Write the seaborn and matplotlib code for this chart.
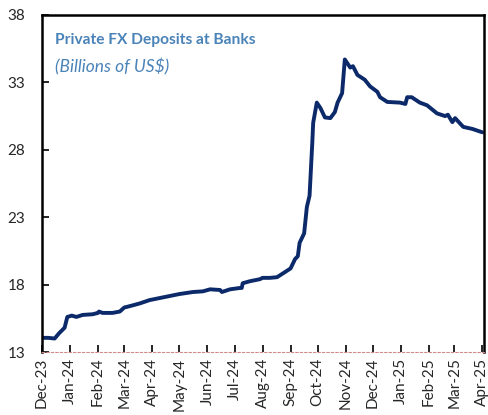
import matplotlib
matplotlib.use("Agg")
import matplotlib.pyplot as plt
import matplotlib.dates as mdates
import pandas as pd
import seaborn as sns

# Private FX deposits at banks, billions of US$
dates = [
    "2023-12-01", "2023-12-08", "2023-12-15", "2023-12-20", "2023-12-26", "2023-12-29",
    "2024-01-03", "2024-01-08", "2024-01-15", "2024-01-26", "2024-02-01", "2024-02-02",
    "2024-02-06", "2024-02-17", "2024-02-25", "2024-03-01", "2024-03-07", "2024-03-18",
    "2024-03-29", "2024-04-09", "2024-04-20", "2024-05-01", "2024-05-16", "2024-05-27",
    "2024-06-04", "2024-06-15", "2024-06-17", "2024-06-26", "2024-07-07", "2024-07-09",
    "2024-07-10", "2024-07-18", "2024-07-29", "2024-08-01", "2024-08-09", "2024-08-17",
    "2024-08-24", "2024-09-01", "2024-09-06", "2024-09-09", "2024-09-11", "2024-09-16",
    "2024-09-19", "2024-09-22", "2024-09-25", "2024-09-26", "2024-09-30", "2024-10-04",
    "2024-10-09", "2024-10-15", "2024-10-20", "2024-10-23", "2024-10-28", "2024-10-31",
    "2024-11-06", "2024-11-09", "2024-11-14", "2024-11-22", "2024-11-28", "2024-12-06",
    "2024-12-09", "2024-12-17", "2024-12-31", "2025-01-06", "2025-01-08", "2025-01-13",
    "2025-01-22", "2025-01-30", "2025-02-10", "2025-02-19", "2025-02-22", "2025-02-27",
    "2025-03-02", "2025-03-11", "2025-03-21", "2025-04-01",
]
deposits = [
    14.05, 14.05, 14.0, 14.4, 14.8, 15.6,
    15.7, 15.6, 15.75, 15.8, 15.9, 16.0,
    15.9, 15.9, 16.0, 16.3, 16.4, 16.6,
    16.85, 17.0, 17.15, 17.3, 17.45, 17.5,
    17.65, 17.6, 17.45, 17.65, 17.75, 17.75,
    18.1, 18.25, 18.4, 18.5, 18.5, 18.55,
    18.85, 19.2, 19.9, 20.1, 21.1, 21.8,
    23.75, 24.6, 28.5, 30.0, 31.5, 31.1,
    30.4, 30.35, 30.8, 31.5, 32.2, 34.7,
    34.1, 34.2, 33.55, 33.2, 32.7, 32.3,
    31.9, 31.55, 31.5, 31.4, 31.9, 31.9,
    31.5, 31.3, 30.7, 30.5, 30.6, 30.05,
    30.35, 29.7, 29.55, 29.3,
]
y_ticks = [13, 18, 23, 28, 33, 38]
title = "Private FX Deposits at Banks"
subtitle = "(Billions of US$)"

df = pd.DataFrame({"date": pd.to_datetime(dates), "deposits": deposits})

sns.set_theme(style="white")
plt.rcParams["font.family"] = ["Lato", "DejaVu Sans"]

fig = plt.figure(figsize=(4.89, 4.15), dpi=100)
ax = fig.add_axes([0.0859, 0.1518, 0.9039, 0.8121])

sns.lineplot(data=df, x="date", y="deposits", ax=ax, color="#0C2A6A", linewidth=2.8)

ax.set_ylim(13, 38)
ax.set_yticks(y_ticks)
ax.set_xlim(pd.Timestamp("2023-12-01"), pd.Timestamp("2025-04-03"))
ax.xaxis.set_major_locator(mdates.MonthLocator())
ax.xaxis.set_major_formatter(mdates.DateFormatter("%b-%y"))
ax.set_xlabel("")
ax.set_ylabel("")

ax.tick_params(axis="x", direction="in", length=5, width=1.2, color="black",
               labelrotation=90, labelsize=11, pad=4, bottom=True)
ax.tick_params(axis="y", direction="in", length=5, width=1.2, color="black",
               labelsize=11, pad=12, left=True)

for side in ("left", "top", "right"):
    ax.spines[side].set_color("black")
    ax.spines[side].set_linewidth(1.8)
ax.spines["bottom"].set_color("#d08a8a")
ax.spines["bottom"].set_linewidth(0.8)
ax.spines["bottom"].set_linestyle((0, (2, 2)))

ax.text(0.029, 0.926, title, transform=ax.transAxes, fontsize=11.2,
        fontweight="bold", color="#4A83B8", va="center", ha="left")
ax.text(0.029, 0.846, subtitle, transform=ax.transAxes, fontsize=12.5,
        fontstyle="italic", color="#4A83B8", va="center", ha="left")

fig.savefig("out.png", dpi=100)
